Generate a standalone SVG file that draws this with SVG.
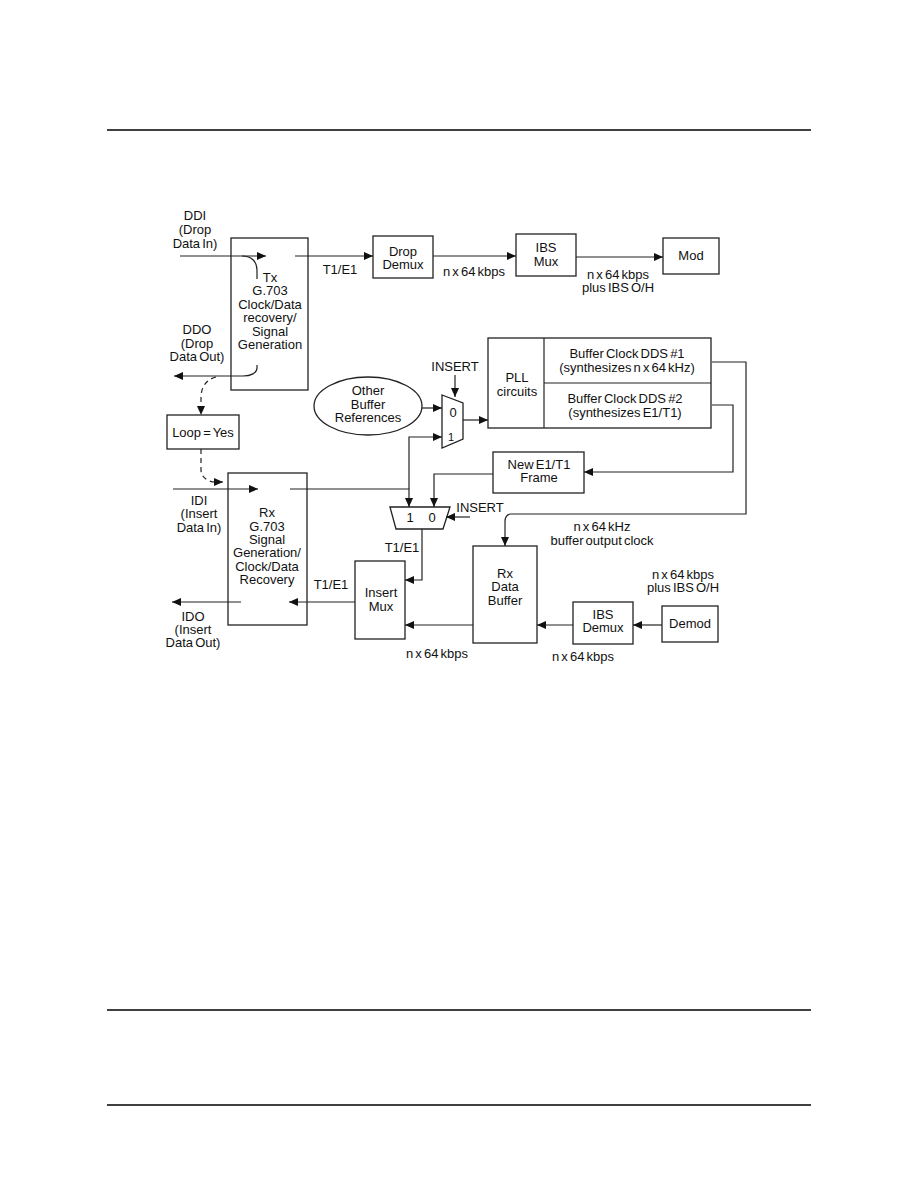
<svg xmlns="http://www.w3.org/2000/svg" width="918" height="1188" viewBox="0 0 918 1188">
<style>
text{font-family:"Liberation Sans",Arial,sans-serif;font-size:13px;fill:#111;text-anchor:middle;word-spacing:-1.5px}
.box{fill:#fff;stroke:#222;stroke-width:1.3}
.ln{fill:none;stroke:#222;stroke-width:1.2}
.ar{fill:none;stroke:#222;stroke-width:1.2;marker-end:url(#ah)}
.da{fill:none;stroke:#222;stroke-width:1.2;stroke-dasharray:5,4;marker-end:url(#ah)}
.rule{stroke:#000;stroke-width:1.4}
</style>
<defs>
<marker id="ah" markerUnits="userSpaceOnUse" markerWidth="10" markerHeight="8" refX="9" refY="4" orient="auto">
<path d="M0,0 L9,4 L0,8 Z" fill="#111"/>
</marker>
</defs>
<rect width="918" height="1188" fill="#fff"/>
<line class="rule" x1="107" y1="130" x2="811" y2="130"/>
<line class="rule" x1="107" y1="1010" x2="811" y2="1010"/>
<line class="rule" x1="107" y1="1105" x2="811" y2="1105"/>

<g id="tx">
<rect class="box" x="231" y="238" width="77" height="152"/>
<text x="270" y="282">Tx</text>
<text x="270" y="295">G.703</text>
<text x="270" y="309">Clock/Data</text>
<text x="270" y="322">recovery/</text>
<text x="270" y="336">Signal</text>
<text x="270" y="349">Generation</text>
</g>
<g id="dropdemux">
<rect class="box" x="373" y="236" width="60" height="42"/>
<text x="403" y="256">Drop</text>
<text x="403" y="269">Demux</text>
</g>
<g id="ibsmux">
<rect class="box" x="516" y="234" width="60" height="42"/>
<text x="546" y="252">IBS</text>
<text x="546" y="266">Mux</text>
</g>
<g id="mod">
<rect class="box" x="663" y="238" width="56" height="36"/>
<text x="691" y="260">Mod</text>
</g>
<g id="loop">
<rect class="box" x="167" y="415" width="72" height="34"/>
<text x="203" y="437">Loop = Yes</text>
</g>
<g id="rx">
<rect class="box" x="228" y="473" width="79" height="152"/>
<text x="267" y="517">Rx</text>
<text x="267" y="531">G.703</text>
<text x="267" y="544">Signal</text>
<text x="267" y="557">Generation/</text>
<text x="267" y="571">Clock/Data</text>
<text x="267" y="584">Recovery</text>
</g>
<g id="other">
<ellipse class="box" cx="368" cy="406" rx="54" ry="29"/>
<text x="368" y="395">Other</text>
<text x="368" y="409">Buffer</text>
<text x="368" y="422">References</text>
</g>
<g id="mux1">
<polygon class="box" points="442,395 463,403 463,439 442,448"/>
<text x="453" y="417">0</text>
<text x="451" y="441" style="font-size:11px">1</text>
</g>
<g id="pll">
<rect class="box" x="488" y="338" width="223" height="90"/>
<line class="ln" x1="544" y1="338" x2="544" y2="428"/>
<line class="ln" x1="544" y1="383" x2="711" y2="383"/>
<text x="517" y="382">PLL</text>
<text x="517" y="396">circuits</text>
<text x="627" y="358">Buffer Clock DDS #1</text>
<text x="627" y="372">(synthesizes n x 64 kHz)</text>
<text x="625" y="403">Buffer Clock DDS #2</text>
<text x="625" y="417">(synthesizes E1/T1)</text>
</g>
<g id="newframe">
<rect class="box" x="493" y="452" width="91" height="41"/>
<text x="539" y="469">New E1/T1</text>
<text x="539" y="482">Frame</text>
</g>
<g id="mux2">
<polygon class="box" points="390,507 450,507 443,529 396,529"/>
<text x="410" y="522">1</text>
<text x="432" y="522">0</text>
</g>
<g id="insertmux">
<rect class="box" x="355" y="561" width="50" height="78"/>
<text x="381" y="597">Insert</text>
<text x="381" y="611">Mux</text>
</g>
<g id="rxbuffer">
<rect class="box" x="473" y="546" width="64" height="97"/>
<text x="505" y="578">Rx</text>
<text x="505" y="591">Data</text>
<text x="505" y="605">Buffer</text>
</g>
<g id="ibsdemux">
<rect class="box" x="573" y="602" width="60" height="42"/>
<text x="603" y="619">IBS</text>
<text x="603" y="632">Demux</text>
</g>
<g id="demod">
<rect class="box" x="662" y="606" width="56" height="36"/>
<text x="690" y="628">Demod</text>
</g>

<g id="connectors">
<line class="ar" x1="180" y1="256" x2="266" y2="256"/>
<path class="ln" d="M242,256 C252,256 257,262 257,270 L257,279"/>
<line class="ar" x1="295" y1="256" x2="373" y2="256"/>
<line class="ar" x1="433" y1="256" x2="516" y2="256"/>
<line class="ar" x1="576" y1="257" x2="663" y2="257"/>
<path class="ar" d="M257,365 L257,368 C257,373 251,376 243,376 L174,376"/>
<path class="da" d="M216,377 C205,380 201,388 201,398 L201,415"/>
<path class="da" d="M201,449 L201,470 C201,477 208,482 215,482 L223,482"/>
<line class="ar" x1="173" y1="489" x2="258" y2="489"/>
<path class="ar" d="M290,489 H409 V507"/>
<path class="ar" d="M409,489 V437 H442"/>
<line class="ar" x1="422" y1="408" x2="442" y2="408"/>
<line class="ar" x1="455" y1="375" x2="455" y2="397"/>
<line class="ar" x1="463" y1="420" x2="488" y2="420"/>
<path class="ar" d="M712,362 H746 V514 H511 C507,514 505,517 505,522 L505,546"/>
<path class="ar" d="M712,405 H733 V472 H584"/>
<path class="ar" d="M493,474 H434 V507"/>
<line class="ar" x1="470" y1="517" x2="446" y2="517"/>
<path class="ar" d="M422,529 V580 H405"/>
<line class="ar" x1="355" y1="602" x2="289" y2="602"/>
<line class="ar" x1="241" y1="602" x2="172" y2="602"/>
<line class="ar" x1="473" y1="625" x2="405" y2="625"/>
<line class="ar" x1="573" y1="625" x2="537" y2="625"/>
<line class="ar" x1="662" y1="625" x2="633" y2="625"/>
</g>

<g id="labels">
<text x="195" y="220">DDI</text>
<text x="195" y="234">(Drop</text>
<text x="195" y="248">Data In)</text>
<text x="197" y="334">DDO</text>
<text x="197" y="348">(Drop</text>
<text x="197" y="361">Data Out)</text>
<text x="340" y="274">T1/E1</text>
<text x="474" y="276">n x 64 kbps</text>
<text x="618" y="279">n x 64 kbps</text>
<text x="618" y="292">plus IBS O/H</text>
<text x="455" y="371">INSERT</text>
<text x="480" y="512">INSERT</text>
<text x="602" y="531">n x 64 kHz</text>
<text x="602" y="545">buffer output clock</text>
<text x="402" y="552">T1/E1</text>
<text x="331" y="589">T1/E1</text>
<text x="199" y="505">IDI</text>
<text x="199" y="518">(Insert</text>
<text x="199" y="532">Data In)</text>
<text x="193" y="621">IDO</text>
<text x="193" y="634">(Insert</text>
<text x="193" y="647">Data Out)</text>
<text x="683" y="579">n x 64 kbps</text>
<text x="683" y="592">plus IBS O/H</text>
<text x="437" y="658">n x 64 kbps</text>
<text x="583" y="661">n x 64 kbps</text>
</g>
</svg>
